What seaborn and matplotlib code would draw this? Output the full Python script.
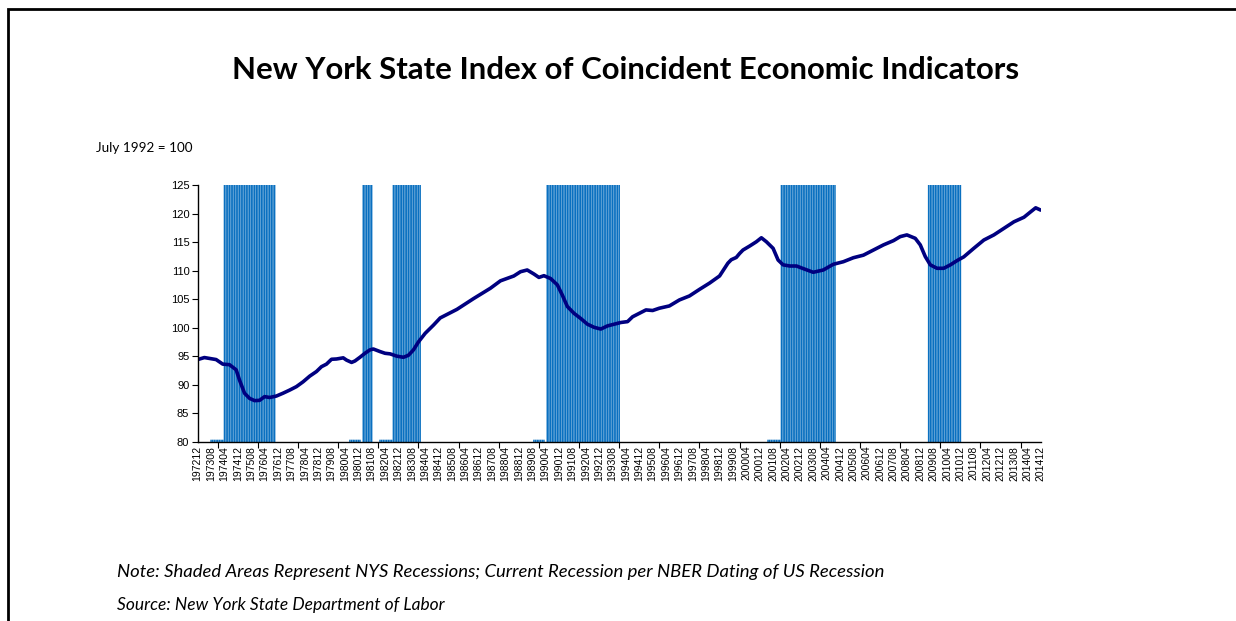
import matplotlib
matplotlib.use("Agg")
import matplotlib.pyplot as plt
from matplotlib.patches import Rectangle
import pandas as pd
import seaborn as sns

# monthly categories on the axis
months = pd.period_range("1972-12", "2014-12", freq="M").strftime("%Y%m").tolist()

# index readings (July 1992 = 100)
line_months = [
    "197212", "197304", "197311", "197403", "197407", "197411", "197501", "197504",
    "197507", "197510", "197601", "197604", "197607", "197611", "197703", "197707",
    "197711", "197803", "197807", "197811", "197902", "197905", "197908", "197911",
    "198003", "198005", "198008", "198010", "198101", "198104", "198107", "198109",
    "198201", "198204", "198207", "198211", "198303", "198306", "198309", "198312",
    "198404", "198409", "198501", "198507", "198511", "198609", "198707", "198801",
    "198809", "198901", "198905", "198909", "198912", "199003", "199007", "199011",
    "199102", "199105", "199109", "199201", "199205", "199209", "199301", "199305",
    "199309", "199401", "199405", "199408", "199412", "199504", "199508", "199512",
    "199606", "199612", "199706", "199712", "199806", "199812", "199905", "199907",
    "199910", "199912", "200002", "200006", "200010", "200101", "200104", "200108",
    "200111", "200202", "200206", "200210", "200302", "200308", "200402", "200408",
    "200502", "200508", "200602", "200608", "200702", "200708", "200712", "200804",
    "200809", "200812", "200903", "200906", "200910", "201002", "201006", "201010",
    "201102", "201108", "201202", "201208", "201302", "201308", "201402", "201406",
    "201409", "201412",
]
line_values = [
    94.4, 94.75, 94.4, 93.6, 93.5, 92.6, 90.8, 88.5,
    87.6, 87.2, 87.25, 87.9, 87.75, 88.0, 88.5, 89.05,
    89.65, 90.5, 91.5, 92.3, 93.15, 93.6, 94.45, 94.5,
    94.7, 94.3, 93.9, 94.15, 94.8, 95.5, 96.1, 96.25,
    95.8, 95.5, 95.4, 95.0, 94.8, 95.15, 96.1, 97.5,
    99.0, 100.45, 101.7, 102.6, 103.2, 105.1, 106.9, 108.2,
    109.05, 109.8, 110.1, 109.4, 108.8, 109.1, 108.6, 107.5,
    105.7, 103.7, 102.5, 101.6, 100.6, 100.05, 99.75, 100.3,
    100.6, 100.9, 101.05, 101.9, 102.5, 103.1, 103.0, 103.4,
    103.8, 104.85, 105.55, 106.7, 107.8, 109.05, 111.3, 111.9,
    112.3, 113.0, 113.6, 114.3, 115.05, 115.75, 115.05, 113.9,
    111.85, 111.0, 110.8, 110.8, 110.35, 109.7, 110.1, 111.1,
    111.55, 112.25, 112.7, 113.6, 114.5, 115.25, 115.95, 116.25,
    115.65, 114.5, 112.45, 111.0, 110.4, 110.4, 111.0, 111.75,
    112.4, 113.9, 115.35, 116.25, 117.4, 118.55, 119.35, 120.3,
    121.0, 120.6,
]

# NYS recessions (shaded) and the short low marks before them
recessions = [("197404", "197610"), ("198103", "198108"), ("198209", "198401"),
              ("199005", "199312"), ("200201", "200409"), ("200905", "201012")]
pre_marks = [("197308", "197403"), ("198007", "198101"), ("198201", "198208"),
             ("198909", "199003"), ("200105", "200112")]
rec_top = 125
mark_top = 80.35

pos = {m: i for i, m in enumerate(months)}
rec = [0.0] * len(months)
for a, b in pre_marks:
    for i in range(pos[a], pos[b] + 1):
        rec[i] = mark_top
for a, b in recessions:
    for i in range(pos[a], pos[b] + 1):
        rec[i] = rec_top

bars = pd.DataFrame({"t": range(len(months)), "rec": rec})
line = pd.DataFrame({"t": [pos[m] for m in line_months], "value": line_values})

sns.set_style("white")
plt.rcParams["font.family"] = ["Liberation Sans", "DejaVu Sans"]
plt.rcParams["text.color"] = "black"
plt.rcParams["xtick.color"] = "black"
plt.rcParams["ytick.color"] = "black"

fig = plt.figure(figsize=(12.36, 6.21), dpi=100)
ax = fig.add_axes([197.7 / 1236, 1 - 441.7 / 621, (1040.7 - 197.7) / 1236, (441.7 - 185) / 621])

sns.barplot(data=bars, x="t", y="rec", native_scale=True, color="#0A70C0",
            width=0.9, linewidth=0, saturation=1, errorbar=None, ax=ax)
for p in ax.patches:
    p.set_snap(False)
sns.lineplot(data=line, x="t", y="value", color="#000080", linewidth=2.6, ax=ax)

ax.set_xlim(0, len(months) - 1)
ax.set_ylim(80, 125)
ax.set_yticks(range(80, 126, 5))
ax.tick_params(axis="y", labelsize=8, length=4, width=0.8, direction="out", left=True, pad=2)

ax.set_xticks(range(0, len(months), 8))
ax.set_xticklabels(months[::8], rotation=90, fontsize=7.5)
ax.set_xticks(range(0, len(months), 12), minor=True)
ax.tick_params(axis="x", which="major", length=0, pad=3)
ax.tick_params(axis="x", which="minor", length=4, width=0.8, direction="out", bottom=True)

ax.set_xlabel("")
ax.set_ylabel("")
for s in ["top", "right"]:
    ax.spines[s].set_visible(False)
for s in ["left", "bottom"]:
    ax.spines[s].set_color("black")
    ax.spines[s].set_linewidth(1)

fig.text(626 / 1236, 1 - 70 / 621, "New York State Index of Coincident Economic Indicators",
         ha="center", va="center", fontsize=22.4, fontweight="bold", family=["Lato", "DejaVu Sans"])
fig.text(96 / 1236, 1 - 148 / 621, "July 1992 = 100", ha="left", va="center",
         fontsize=9.7, family=["Lato", "DejaVu Sans"])
fig.text(117 / 1236, 1 - 572 / 621,
         "Note: Shaded Areas Represent NYS Recessions; Current Recession per NBER Dating of US Recession",
         ha="left", va="center", fontsize=13.3, style="italic", family=["Lato", "DejaVu Sans"])
fig.text(117 / 1236, 1 - 605 / 621, "Source: New York State Department of Labor",
         ha="left", va="center", fontsize=12.5, style="italic", family=["Lato", "DejaVu Sans"])

# chart frame (top and left edges visible)
fig.add_artist(Rectangle((7.5 / 1236, -0.1), 1.2, 1.1 - 9 / 621, transform=fig.transFigure,
                         fill=False, edgecolor="black", linewidth=2))

fig.savefig("out.png", dpi=100)
